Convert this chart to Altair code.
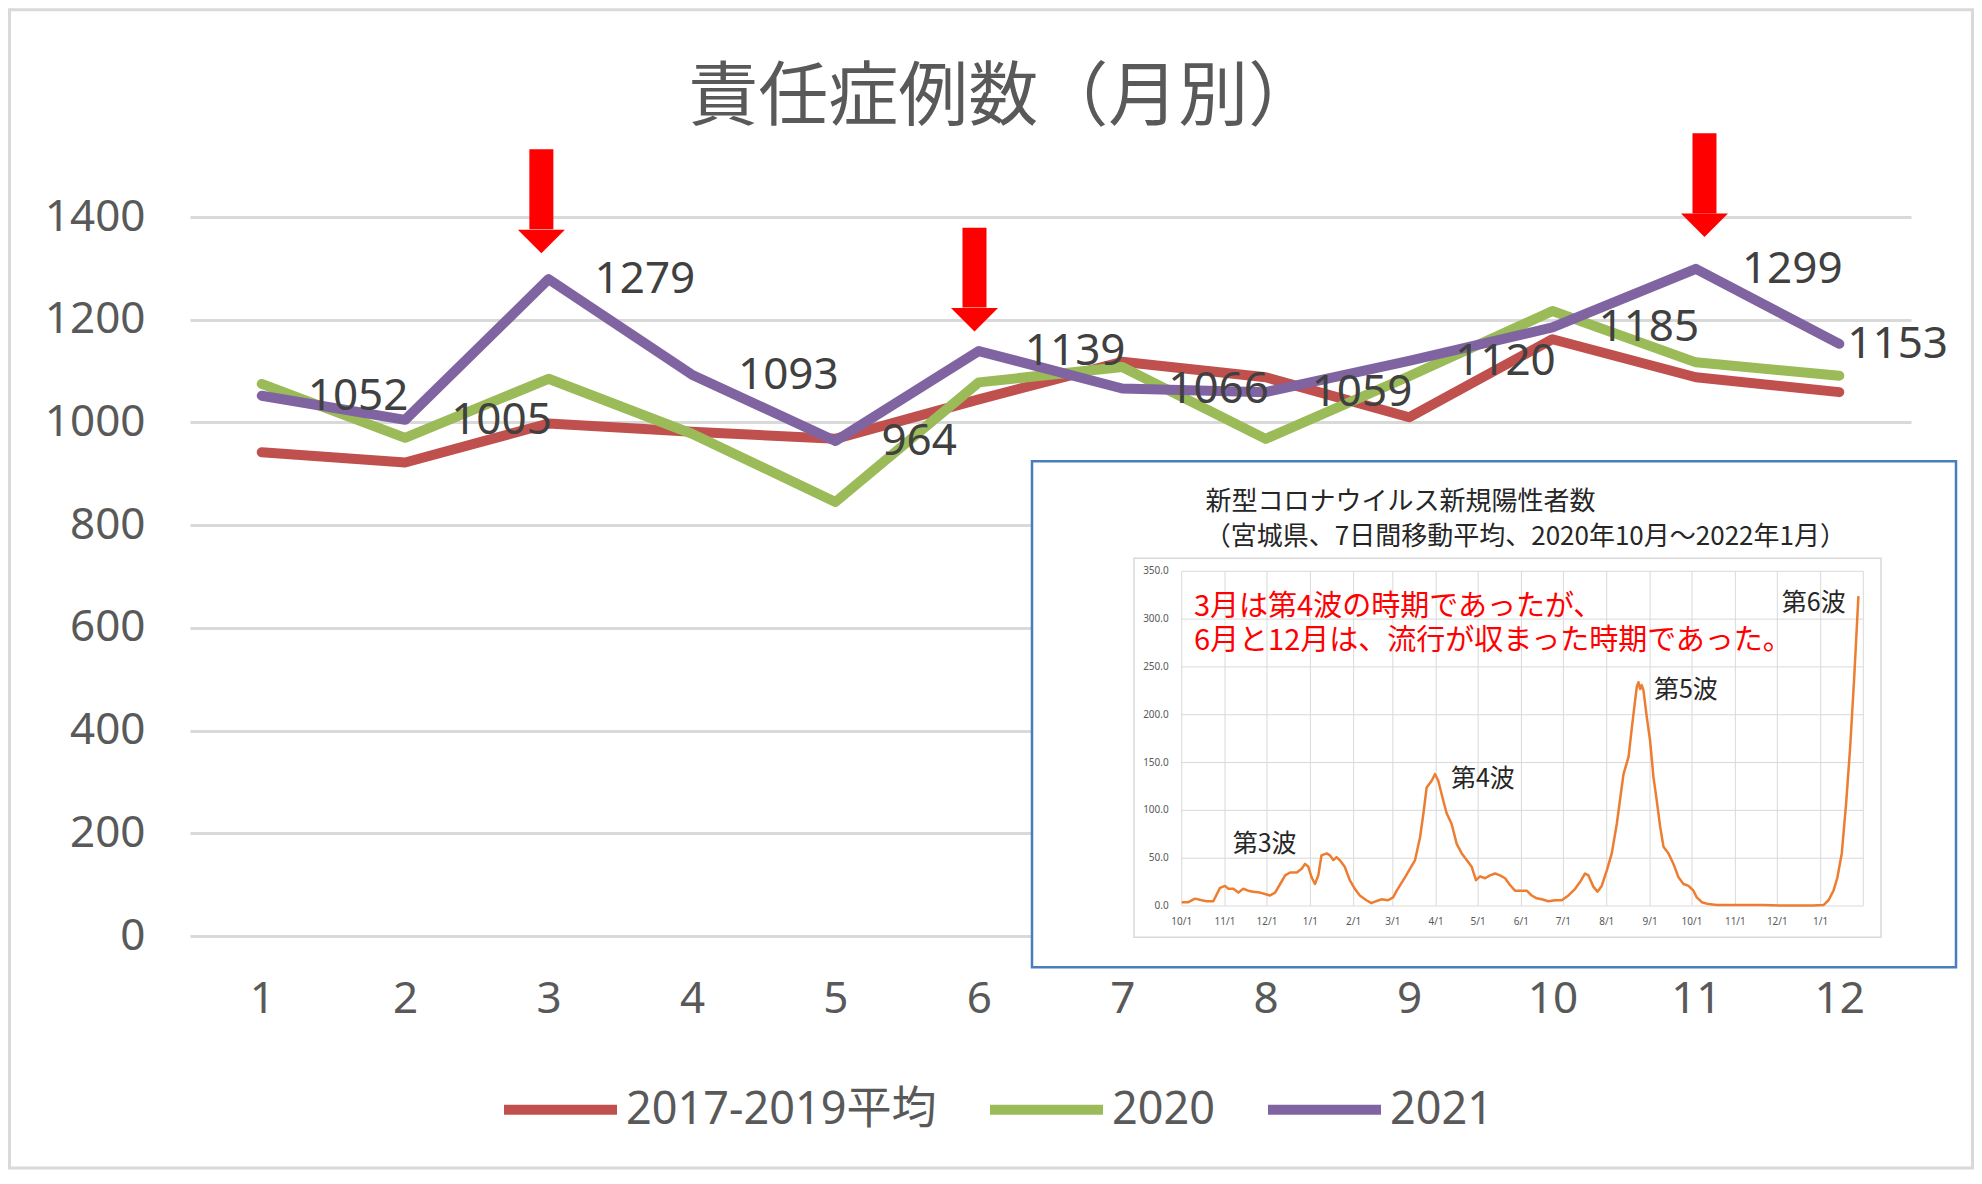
import altair as alt
import pandas as pd

# ---------------- main chart data ----------------
MONTHS = [1, 2, 3, 4, 5, 6, 7, 8, 9, 10, 11, 12]
SERIES = ["2017-2019平均", "2020", "2021"]
AVG_2017_2019 = [942, 922, 998, 982, 968, 1045, 1118, 1088, 1010, 1162, 1088, 1059]
Y2020 = [1075, 970, 1085, 978, 845, 1078, 1108, 968, 1090, 1217, 1117, 1091]
Y2021 = [1052, 1005, 1279, 1093, 964, 1139, 1066, 1059, 1120, 1185, 1299, 1153]
Y_TICKS = [0, 200, 400, 600, 800, 1000, 1200, 1400]
TITLE = "責任症例数（月別）"

# red arrows (month position, shaft top, head start, tip) in data units
ARROW_MONTHS = [2.95, 5.97, 11.06]
ARROW_TOP = [1532, 1379, 1563]
ARROW_HEAD = [1376, 1224, 1407]
ARROW_TIP = [1329, 1176, 1361]

# ---------------- inset data ----------------
INSET_START = "2020-10-01"
INSET_TICK_DATES = ["2020-10-01", "2020-11-01", "2020-12-01", "2021-01-01", "2021-02-01",
                    "2021-03-01", "2021-04-01", "2021-05-01", "2021-06-01", "2021-07-01",
                    "2021-08-01", "2021-09-01", "2021-10-01", "2021-11-01", "2021-12-01",
                    "2022-01-01"]
INSET_TICK_LABELS = ["10/1", "11/1", "12/1", "1/1", "2/1", "3/1", "4/1", "5/1", "6/1",
                     "7/1", "8/1", "9/1", "10/1", "11/1", "12/1", "1/1"]
INSET_END = "2022-01-31"
INSET_Y_TICKS = [0, 50, 100, 150, 200, 250, 300, 350]
INSET_Y_LABELS = ["0.0", "50.0", "100.0", "150.0", "200.0", "250.0", "300.0", "350.0"]

# days since 2020-10-01 and 7-day average of new cases
INSET_DAYS = [0, 4.8, 9.5, 14.3, 18, 22.6, 25, 27.4, 31, 33.4, 36.9, 40.5, 44, 47.6, 51.2,
              56, 60.8, 63.2, 66.8, 70.4, 74, 77.5, 82.3, 85.8, 88.2, 90.6, 92.9, 95.3,
              97.7, 100, 103.7, 106, 108.4, 110.8, 113, 116.6, 120.2, 123.8, 127.4, 132.1,
              135.7, 139, 142.8, 147.6, 151.2, 153.8, 159.7, 164.5, 166.9, 170.5, 172.9,
              175.2, 178.8, 181.2, 183.5, 187.1, 189.5, 193, 196.7, 200.3, 203.8, 207.4,
              210.5, 213.4, 217, 220.5, 224.1, 227.7, 231.3, 234.8, 238.4, 243.2, 246.8,
              250.3, 253.9, 257.5, 262.3, 267, 271.8, 276.6, 281.4, 284.9, 288.5, 290.9,
              294.5, 297.4, 300.4, 304, 307.6, 311.2, 316, 319.6, 322, 324.3, 325.5, 326.7,
              327.9, 329, 330.2, 332.6, 335, 337.4, 339.8, 342.2, 344.6, 348.2, 351.7,
              355.3, 358.9, 362.5, 366, 368.4, 372, 376.8, 382.7, 392.3, 404.2, 416, 428,
              440, 451.9, 459, 462.6, 466.2, 469, 472.1, 475.2, 478.1, 481, 484]
INSET_VALUES = [4, 4, 7.7, 6, 5, 5, 12, 19, 21, 18, 18, 14, 18, 16, 15,
                14, 12, 11, 14, 23, 32, 35, 35, 39, 44, 41, 30, 23,
                32, 53, 55, 53, 48, 51, 48, 41, 27, 18, 11, 6,
                3, 5, 7, 6, 9, 16, 30, 42, 48, 72, 97,
                124, 131, 138, 131, 110, 97, 86, 65, 55, 48, 41,
                27, 31, 29, 32, 34, 32, 29, 22, 16, 16, 16,
                11, 8, 7, 5, 6, 6, 11, 18, 25, 34, 32,
                20, 15, 21, 37, 55, 86, 138, 156, 187, 215, 229, 234,
                227, 231, 226, 198, 173, 135, 110, 83, 62, 55, 44,
                30, 23, 21, 16, 9, 4, 2, 1, 1, 1, 1, 0.5,
                0.5, 0.5, 1, 6, 16, 30, 55, 107, 166, 239, 324]

INSET_TITLE = ["新型コロナウイルス新規陽性者数", "（宮城県、7日間移動平均、2020年10月～2022年1月）"]
WAVE_LABELS = ["第3波", "第4波", "第5波", "第6波"]
NOTE_LINES = ["3月は第4波の時期であったが、", "6月と12月は、流行が収まった時期であった。"]

# annotation anchors (inset data coordinates: day, value)
INSET_TITLE_POS = [(17, 422), (16.5, 386)]
WAVE_POS = [(36.5, 64.7), (192.6, 132.5), (337.8, 225.6), (429.2, 317)]
NOTE_POS = [(8.8, 312.4), (8.8, 276.9)]

FONT = "Noto Sans, Noto Sans CJK JP"
JFONT = "Noto Sans CJK JP"
GRAY = "#595959"
COLORS = ["#C0504D", "#9BBB59", "#8064A2"]

W, H = 1721, 719

# ---------------- main chart ----------------
XAXIS = alt.Axis(values=MONTHS, grid=False, domain=False, ticks=False, labelFontSize=44,
                 labelColor=GRAY, labelFont=FONT, labelPadding=41, title=None)
YAXIS = alt.Axis(values=Y_TICKS, format="d", grid=True, gridColor="#D9D9D9", gridWidth=3,
                 domain=False, ticks=False, labelFontSize=44, labelColor=GRAY,
                 labelFont=FONT, labelPadding=45, title=None)
XS = alt.Scale(domain=[0.5, 12.5], nice=False, zero=False)
YS = alt.Scale(domain=[0, 1400], nice=False, zero=False)


def mx(f):
    return alt.X(f, type="quantitative", scale=XS, axis=XAXIS)


def my(f):
    return alt.Y(f, type="quantitative", scale=YS, axis=YAXIS)


df = pd.DataFrame({
    "month": MONTHS * 3,
    "value": AVG_2017_2019 + Y2020 + Y2021,
    "series": [s for s in SERIES for _ in MONTHS],
})
df21 = pd.DataFrame({"month": MONTHS, "value": Y2021})

frame = alt.Chart(pd.DataFrame({"a": [0]})).mark_rect(
    fill=None, stroke="#D9D9D9", strokeWidth=3
).encode(x=alt.value(-180.5), x2=alt.value(1782.5), y=alt.value(-207.2), y2=alt.value(951))

lines = alt.Chart(df).mark_line(strokeWidth=10, strokeJoin="round", strokeCap="round").encode(
    x=mx("month"), y=my("value"),
    color=alt.Color("series:N", scale=alt.Scale(domain=SERIES, range=COLORS),
                    legend=alt.Legend(orient="none", legendX=309, legendY=831,
                                      direction="horizontal", title=None,
                                      symbolType="stroke", symbolSize=12769,
                                      symbolStrokeWidth=10, labelFontSize=45,
                                      labelColor=GRAY, labelFont=FONT, labelOffset=4,
                                      columnPadding=33, labelLimit=0, padding=0)),
)

labels = alt.Chart(df21).transform_filter(alt.datum.month < 12).mark_text(
    align="left", baseline="middle", dx=46, dy=1, fontSize=44, color="#404040", font=FONT
).encode(x=mx("month"), y=my("value"), text=alt.Text("value:Q"))
last_label = alt.Chart(df21).transform_filter(alt.datum.month == 12).mark_text(
    align="left", baseline="middle", dx=8, dy=1, fontSize=44, color="#404040", font=FONT
).encode(x=mx("month"), y=my("value"), text=alt.Text("value:Q"))

title = alt.Chart(pd.DataFrame({"month": [6.17], "value": [1630], "t": [TITLE]})).mark_text(
    align="center", baseline="middle", fontSize=70, color=GRAY, font=JFONT
).encode(x=mx("month"), y=my("value"), text="t:N")

arrows_df = pd.DataFrame({"month": ARROW_MONTHS, "top": ARROW_TOP, "head": ARROW_HEAD,
                          "tip": ARROW_TIP})
arrows_df["mid"] = (arrows_df["head"] + arrows_df["tip"]) / 2
shafts = alt.Chart(arrows_df).mark_rule(color="#FF0000", strokeWidth=24, strokeCap="butt").encode(
    x=mx("month"), y=my("top"), y2=alt.Y2("head:Q"))
heads = alt.Chart(arrows_df).mark_point(
    shape="M-1,-0.5L1,-0.5L0,0.5Z", filled=True, size=2209, color="#FF0000", opacity=1,
    strokeWidth=0
).encode(x=mx("month"), y=my("mid"))

main = alt.layer(frame, lines, labels, last_label, title, shafts, heads)

# ---------------- inset ----------------
start = pd.Timestamp(INSET_START)
tick_days = [(pd.Timestamp(d) - start).days for d in INSET_TICK_DATES]
end_day = (pd.Timestamp(INSET_END) - start).days + 0.5

IXS = alt.Scale(domain=[0, end_day], range=[991.7, 1673.3], nice=False, zero=False)
IYS = alt.Scale(domain=[0, 350], range=[689, 354.3], nice=False, zero=False)


def ix(f):
    return alt.X(f, type="quantitative", scale=IXS, axis=None)


def iy(f):
    return alt.Y(f, type="quantitative", scale=IYS, axis=None)


box = alt.Chart(pd.DataFrame({"a": [0]})).mark_rect(
    fill="white", stroke="#4A7EBB", strokeWidth=2.5
).encode(x=alt.value(842), x2=alt.value(1766), y=alt.value(244.3), y2=alt.value(750.3))

inner_frame = alt.Chart(pd.DataFrame({"a": [0]})).mark_rect(
    fill=None, stroke="#D9D9D9", strokeWidth=1.5
).encode(x=alt.value(944), x2=alt.value(1691), y=alt.value(341.3), y2=alt.value(720.3))

hgrid_df = pd.DataFrame({"val": INSET_Y_TICKS, "x0": 0, "x1": end_day, "label": INSET_Y_LABELS})
hgrid = alt.Chart(hgrid_df).mark_rule(color="#D9D9D9", strokeWidth=1).encode(
    x=ix("x0"), x2=alt.X2("x1:Q"), y=iy("val"))
vgrid_df = pd.DataFrame({"day": tick_days + [end_day], "y0": 0, "y1": INSET_Y_TICKS[-1]})
vgrid = alt.Chart(vgrid_df).mark_rule(color="#D9D9D9", strokeWidth=1).encode(
    x=ix("day"), y=iy("y0"), y2=alt.Y2("y1:Q"))

ylab = alt.Chart(hgrid_df).mark_text(align="right", baseline="middle", dx=-13, fontSize=10,
                                     color=GRAY, font=FONT).encode(
    x=ix("x0"), y=iy("val"), text="label:N")
xlab_df = pd.DataFrame({"day": tick_days, "val": 0, "label": INSET_TICK_LABELS})
xlab = alt.Chart(xlab_df).mark_text(align="center", baseline="middle", dy=16, fontSize=10,
                                    color=GRAY, font=FONT).encode(
    x=ix("day"), y=iy("val"), text="label:N")

curve_df = pd.DataFrame({"day": INSET_DAYS, "val": INSET_VALUES})
curve = alt.Chart(curve_df).mark_line(color="#ED7D31", strokeWidth=2.5,
                                      strokeJoin="round").encode(x=ix("day"), y=iy("val"))

ititle_df = pd.DataFrame({"day": [p[0] for p in INSET_TITLE_POS],
                          "val": [p[1] for p in INSET_TITLE_POS], "t": INSET_TITLE})
ititle = alt.Chart(ititle_df).mark_text(align="left", baseline="middle", fontSize=26,
                                        color="#262626", font=JFONT).encode(
    x=ix("day"), y=iy("val"), text="t:N")

wave_df = pd.DataFrame({"day": [p[0] for p in WAVE_POS], "val": [p[1] for p in WAVE_POS],
                        "t": WAVE_LABELS})
waves = alt.Chart(wave_df).mark_text(align="left", baseline="middle", fontSize=25,
                                     color="#262626", font=JFONT).encode(
    x=ix("day"), y=iy("val"), text="t:N")

note_df = pd.DataFrame({"day": [p[0] for p in NOTE_POS], "val": [p[1] for p in NOTE_POS],
                        "t": NOTE_LINES})
notes = alt.Chart(note_df).mark_text(align="left", baseline="middle", fontSize=29,
                                     color="#FF0000", font=JFONT).encode(
    x=ix("day"), y=iy("val"), text="t:N")

inset = alt.layer(box, inner_frame, hgrid, vgrid, curve, ylab, xlab, ititle, waves, notes)

chart = alt.layer(main, inset).resolve_scale(x="independent", y="independent").properties(
    width=W, height=H, padding=0, background="white"
).configure_view(stroke=None)

chart.save("out.html", embed_options={"renderer": "svg", "actions": False})
